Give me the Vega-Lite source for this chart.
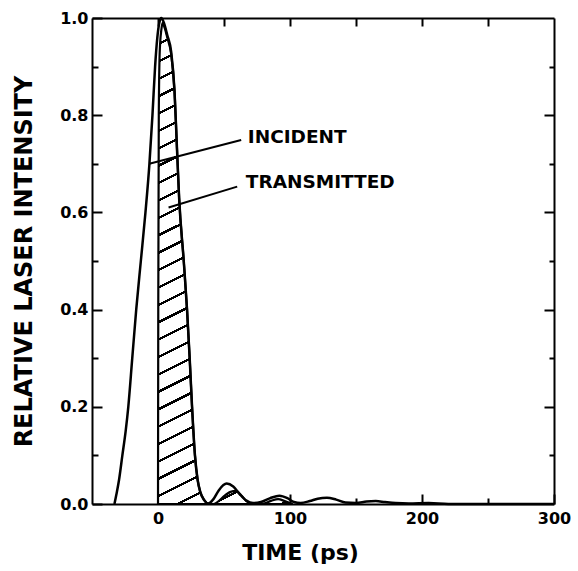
{
  "$schema": "https://vega.github.io/schema/vega-lite/v6.json",
  "width": 462,
  "height": 486,
  "autosize": {"type": "none"},
  "padding": {"left": 92, "top": 18, "right": 24, "bottom": 67},
  "background": "white",
  "view": {"stroke": null},
  "config": {
    "font": "DejaVu Sans",
    "axis": {
      "grid": false,
      "domainColor": "black",
      "domainWidth": 2,
      "tickColor": "black",
      "tickWidth": 2,
      "labelColor": "black",
      "labelFont": "DejaVu Sans",
      "labelFontSize": 16,
      "labelFontWeight": "bold",
      "titleColor": "black",
      "titleFont": "DejaVu Sans",
      "titleFontWeight": "bold",
      "labelFlush": false,
      "labelOverlap": false,
      "labelBound": false
    }
  },
  "datasets": {
    "incident": [
      {"t": -33, "v": 0}, {"t": -31.5, "v": 0.02}, {"t": -29.5, "v": 0.05}, {"t": -27, "v": 0.1},
      {"t": -24.5, "v": 0.15}, {"t": -22.5, "v": 0.2}, {"t": -19.5, "v": 0.3}, {"t": -16.5, "v": 0.4},
      {"t": -13, "v": 0.5}, {"t": -9.5, "v": 0.6}, {"t": -6.5, "v": 0.7}, {"t": -4.2, "v": 0.8},
      {"t": -2.2, "v": 0.9}, {"t": -0.5, "v": 0.96}, {"t": 1, "v": 0.99}, {"t": 2.5, "v": 1.0},
      {"t": 4.5, "v": 0.99}, {"t": 7, "v": 0.965}, {"t": 10, "v": 0.93}, {"t": 12.5, "v": 0.85},
      {"t": 14.4, "v": 0.73}, {"t": 16, "v": 0.63}, {"t": 19.5, "v": 0.5}, {"t": 22, "v": 0.4},
      {"t": 24, "v": 0.3}, {"t": 25.8, "v": 0.2}, {"t": 28, "v": 0.1}, {"t": 30, "v": 0.05},
      {"t": 32, "v": 0.025}, {"t": 35, "v": 0.008}, {"t": 38, "v": 0.001}, {"t": 42, "v": 0.01},
      {"t": 46, "v": 0.028}, {"t": 52, "v": 0.042}, {"t": 57, "v": 0.036}, {"t": 62, "v": 0.02},
      {"t": 67, "v": 0.007}, {"t": 72, "v": 0.002}, {"t": 78, "v": 0.004}, {"t": 85, "v": 0.012},
      {"t": 92, "v": 0.017}, {"t": 98, "v": 0.012}, {"t": 103, "v": 0.004}, {"t": 108, "v": 0.002},
      {"t": 115, "v": 0.006}, {"t": 121, "v": 0.011}, {"t": 128, "v": 0.013}, {"t": 135, "v": 0.009},
      {"t": 142, "v": 0.003}, {"t": 150, "v": 0.002}, {"t": 158, "v": 0.005}, {"t": 165, "v": 0.006},
      {"t": 172, "v": 0.004}, {"t": 180, "v": 0.002}, {"t": 190, "v": 0.001}, {"t": 205, "v": 0.002},
      {"t": 220, "v": 0}, {"t": 300, "v": 0}
    ],
    "transmitted": [
      {"t": 0, "v": 0}, {"t": 0.2, "v": 0.4}, {"t": 0.6, "v": 0.8}, {"t": 1.3, "v": 0.93},
      {"t": 2.5, "v": 0.975}, {"t": 3.5, "v": 0.99}, {"t": 5, "v": 0.98}, {"t": 7, "v": 0.96},
      {"t": 10, "v": 0.925}, {"t": 12.5, "v": 0.85}, {"t": 14.4, "v": 0.73}, {"t": 16, "v": 0.63},
      {"t": 19.5, "v": 0.5}, {"t": 22, "v": 0.4}, {"t": 24, "v": 0.3}, {"t": 25.8, "v": 0.2},
      {"t": 28, "v": 0.1}, {"t": 30, "v": 0.05}, {"t": 32, "v": 0.025}, {"t": 35, "v": 0.008},
      {"t": 38, "v": 0.001}, {"t": 42, "v": 0}, {"t": 46, "v": 0.006}, {"t": 50, "v": 0.016},
      {"t": 55, "v": 0.025}, {"t": 59, "v": 0.027}, {"t": 63, "v": 0.018}, {"t": 67, "v": 0.006},
      {"t": 72, "v": 0}, {"t": 80, "v": 0.001}, {"t": 86, "v": 0.007}, {"t": 91, "v": 0.01},
      {"t": 96, "v": 0.006}, {"t": 102, "v": 0}
    ],
    "labels": [
      {"t": 68, "v": 0.755, "text": "INCIDENT"},
      {"t": 66.5, "v": 0.663, "text": "TRANSMITTED"}
    ],
    "leaders": [
      {"t": 63, "v": 0.749, "t2": -6.6, "v2": 0.70},
      {"t": 60, "v": 0.653, "t2": 8, "v2": 0.61}
    ]
  },
  "resolve": {"axis": {"x": "independent", "y": "independent"}},
  "layer": [
    {
      "data": {"name": "transmitted"},
      "mark": {
        "type": "area",
        "stroke": "black",
        "strokeWidth": 2.2,
        "interpolate": "monotone",
        "fill": {
          "gradient": "linear",
          "x1": 0, "y1": 0, "x2": 0.1564, "y2": 1.1181,
          "stops": [
            {"offset": 0, "color": "white"},
            {"offset": 0.005, "color": "white"}, {"offset": 0.005, "color": "black"}, {"offset": 0.0098, "color": "black"}, {"offset": 0.0098, "color": "white"},
            {"offset": 0.0367, "color": "white"}, {"offset": 0.0367, "color": "black"}, {"offset": 0.0415, "color": "black"}, {"offset": 0.0415, "color": "white"},
            {"offset": 0.0684, "color": "white"}, {"offset": 0.0684, "color": "black"}, {"offset": 0.0732, "color": "black"}, {"offset": 0.0732, "color": "white"},
            {"offset": 0.1001, "color": "white"}, {"offset": 0.1001, "color": "black"}, {"offset": 0.1049, "color": "black"}, {"offset": 0.1049, "color": "white"},
            {"offset": 0.1318, "color": "white"}, {"offset": 0.1318, "color": "black"}, {"offset": 0.1366, "color": "black"}, {"offset": 0.1366, "color": "white"},
            {"offset": 0.1635, "color": "white"}, {"offset": 0.1635, "color": "black"}, {"offset": 0.1683, "color": "black"}, {"offset": 0.1683, "color": "white"},
            {"offset": 0.1952, "color": "white"}, {"offset": 0.1952, "color": "black"}, {"offset": 0.2, "color": "black"}, {"offset": 0.2, "color": "white"},
            {"offset": 0.2269, "color": "white"}, {"offset": 0.2269, "color": "black"}, {"offset": 0.2317, "color": "black"}, {"offset": 0.2317, "color": "white"},
            {"offset": 0.2586, "color": "white"}, {"offset": 0.2586, "color": "black"}, {"offset": 0.2634, "color": "black"}, {"offset": 0.2634, "color": "white"},
            {"offset": 0.2903, "color": "white"}, {"offset": 0.2903, "color": "black"}, {"offset": 0.2951, "color": "black"}, {"offset": 0.2951, "color": "white"},
            {"offset": 0.322, "color": "white"}, {"offset": 0.322, "color": "black"}, {"offset": 0.3268, "color": "black"}, {"offset": 0.3268, "color": "white"},
            {"offset": 0.3537, "color": "white"}, {"offset": 0.3537, "color": "black"}, {"offset": 0.3585, "color": "black"}, {"offset": 0.3585, "color": "white"},
            {"offset": 0.3854, "color": "white"}, {"offset": 0.3854, "color": "black"}, {"offset": 0.3902, "color": "black"}, {"offset": 0.3902, "color": "white"},
            {"offset": 0.4171, "color": "white"}, {"offset": 0.4171, "color": "black"}, {"offset": 0.4219, "color": "black"}, {"offset": 0.4219, "color": "white"},
            {"offset": 0.4488, "color": "white"}, {"offset": 0.4488, "color": "black"}, {"offset": 0.4536, "color": "black"}, {"offset": 0.4536, "color": "white"},
            {"offset": 0.4805, "color": "white"}, {"offset": 0.4805, "color": "black"}, {"offset": 0.4853, "color": "black"}, {"offset": 0.4853, "color": "white"},
            {"offset": 0.5122, "color": "white"}, {"offset": 0.5122, "color": "black"}, {"offset": 0.517, "color": "black"}, {"offset": 0.517, "color": "white"},
            {"offset": 0.5439, "color": "white"}, {"offset": 0.5439, "color": "black"}, {"offset": 0.5487, "color": "black"}, {"offset": 0.5487, "color": "white"},
            {"offset": 0.5756, "color": "white"}, {"offset": 0.5756, "color": "black"}, {"offset": 0.5804, "color": "black"}, {"offset": 0.5804, "color": "white"},
            {"offset": 0.6073, "color": "white"}, {"offset": 0.6073, "color": "black"}, {"offset": 0.6121, "color": "black"}, {"offset": 0.6121, "color": "white"},
            {"offset": 0.639, "color": "white"}, {"offset": 0.639, "color": "black"}, {"offset": 0.6438, "color": "black"}, {"offset": 0.6438, "color": "white"},
            {"offset": 0.6707, "color": "white"}, {"offset": 0.6707, "color": "black"}, {"offset": 0.6755, "color": "black"}, {"offset": 0.6755, "color": "white"},
            {"offset": 0.7024, "color": "white"}, {"offset": 0.7024, "color": "black"}, {"offset": 0.7072, "color": "black"}, {"offset": 0.7072, "color": "white"},
            {"offset": 0.7341, "color": "white"}, {"offset": 0.7341, "color": "black"}, {"offset": 0.7389, "color": "black"}, {"offset": 0.7389, "color": "white"},
            {"offset": 0.7658, "color": "white"}, {"offset": 0.7658, "color": "black"}, {"offset": 0.7706, "color": "black"}, {"offset": 0.7706, "color": "white"},
            {"offset": 0.7975, "color": "white"}, {"offset": 0.7975, "color": "black"}, {"offset": 0.8023, "color": "black"}, {"offset": 0.8023, "color": "white"},
            {"offset": 0.8292, "color": "white"}, {"offset": 0.8292, "color": "black"}, {"offset": 0.834, "color": "black"}, {"offset": 0.834, "color": "white"},
            {"offset": 0.8609, "color": "white"}, {"offset": 0.8609, "color": "black"}, {"offset": 0.8657, "color": "black"}, {"offset": 0.8657, "color": "white"},
            {"offset": 0.8926, "color": "white"}, {"offset": 0.8926, "color": "black"}, {"offset": 0.8974, "color": "black"}, {"offset": 0.8974, "color": "white"},
            {"offset": 0.9243, "color": "white"}, {"offset": 0.9243, "color": "black"}, {"offset": 0.9291, "color": "black"}, {"offset": 0.9291, "color": "white"},
            {"offset": 0.956, "color": "white"}, {"offset": 0.956, "color": "black"}, {"offset": 0.9608, "color": "black"}, {"offset": 0.9608, "color": "white"},
            {"offset": 0.9877, "color": "white"}, {"offset": 0.9877, "color": "black"}, {"offset": 0.9925, "color": "black"}, {"offset": 0.9925, "color": "white"},
            {"offset": 1, "color": "white"}
          ]
        }
      },
      "encoding": {
        "x": {
          "field": "t", "type": "quantitative",
          "scale": {"domain": [-50, 300], "nice": false, "zero": false},
          "axis": {
            "orient": "top", "labels": false, "title": null,
            "values": [0, 50, 100, 150, 200, 250],
            "tickSize": -8
          }
        },
        "y": {
          "field": "v", "type": "quantitative",
          "scale": {"domain": [0, 1], "nice": false, "zero": false},
          "axis": {
            "orient": "right", "labels": false, "title": null,
            "values": [0.1, 0.2, 0.3, 0.4, 0.5, 0.6, 0.7, 0.8, 0.9],
            "tickSize": {"condition": {"test": "round(datum.value*10) % 2 == 0", "value": -10}, "value": -5}
          }
        }
      }
    },
    {
      "data": {"name": "incident"},
      "mark": {"type": "line", "color": "black", "strokeWidth": 2.5, "interpolate": "monotone"},
      "encoding": {
        "x": {
          "field": "t", "type": "quantitative",
          "scale": {"domain": [-50, 300], "nice": false, "zero": false},
          "axis": {
            "orient": "bottom",
            "values": [0, 50, 100, 150, 200, 250, 300],
            "labelExpr": "datum.value % 100 == 0 ? datum.label : ''",
            "tickSize": {"condition": {"test": "datum.value % 100 == 0", "value": -10}, "value": -6},
            "labelPadding": 16,
            "title": "TIME (ps)",
            "titleFontSize": 22,
            "titleX": 208,
            "titleY": 55,
            "titleAlign": "center",
            "titleBaseline": "alphabetic"
          }
        },
        "y": {
          "field": "v", "type": "quantitative",
          "scale": {"domain": [0, 1], "nice": false, "zero": false},
          "axis": {
            "orient": "left",
            "values": [0, 0.1, 0.2, 0.3, 0.4, 0.5, 0.6, 0.7, 0.8, 0.9, 1.0],
            "labelExpr": "round(datum.value*10) % 2 == 0 ? format(datum.value, '.1f') : ''",
            "tickSize": {"condition": {"test": "round(datum.value*10) % 2 == 0", "value": -10}, "value": -6},
            "labelPadding": 14,
            "title": "RELATIVE LASER INTENSITY",
            "titleFontSize": 24,
            "titleAngle": -90,
            "titleX": -68,
            "titleY": 243,
            "titleAlign": "center",
            "titleBaseline": "middle"
          }
        }
      }
    },
    {
      "data": {"name": "leaders"},
      "mark": {"type": "rule", "color": "black", "strokeWidth": 2},
      "encoding": {
        "x": {"field": "t", "type": "quantitative", "axis": null},
        "y": {"field": "v", "type": "quantitative", "axis": null},
        "x2": {"field": "t2"},
        "y2": {"field": "v2"}
      }
    },
    {
      "data": {"name": "labels"},
      "mark": {"type": "text", "align": "left", "baseline": "middle", "font": "DejaVu Sans", "fontWeight": "bold", "fontSize": 18.5, "color": "black"},
      "encoding": {
        "x": {"field": "t", "type": "quantitative", "axis": null},
        "y": {"field": "v", "type": "quantitative", "axis": null},
        "text": {"field": "text"}
      }
    }
  ]
}
